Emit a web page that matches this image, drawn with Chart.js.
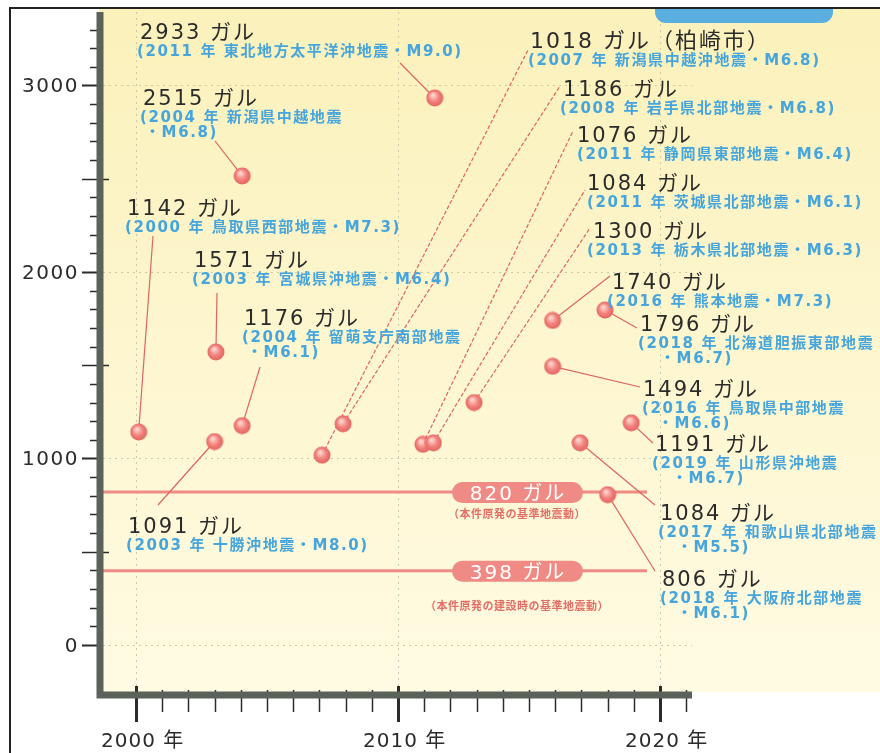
<!DOCTYPE html>
<html lang="ja">
<head>
<meta charset="utf-8">
<title>基準地震動を超えた地震の揺れ</title>
<script src="https://cdn.jsdelivr.net/npm/chart.js@4.4.1/dist/chart.umd.min.js"></script>
<style>
  html, body { margin: 0; padding: 0; background: #fff; }
  #chart { display: block; }
</style>
</head>
<body>
<canvas id="chart" width="880" height="753"></canvas>
<script>
// 観測された最大加速度（ガル）— 位置は図から読んだ年
const quakeYear = [2000.1, 2003.05, 2003.0, 2004.05, 2004.05, 2007.1, 2007.9, 2010.95, 2011.35, 2011.4, 2012.9, 2015.9, 2015.9, 2016.95, 2017.9, 2018.0, 2018.9];
const quakeGal = [1142, 1571, 1091, 1176, 2515, 1018, 1186, 1076, 1084, 2933, 1300, 1740, 1494, 1084, 1796, 806, 1191];
const quakeNote = ['', '', '', '', '', '（柏崎市）', '', '', '', '', '', '', '', '', '', '', ''];
const quakeSub = [
  ['(2000 年 鳥取県西部地震・M7.3)'],
  ['(2003 年 宮城県沖地震・M6.4)'],
  ['(2003 年 十勝沖地震・M8.0)'],
  ['(2004 年 留萌支庁南部地震', '・M6.1)'],
  ['(2004 年 新潟県中越地震', '・M6.8)'],
  ['(2007 年 新潟県中越沖地震・M6.8)'],
  ['(2008 年 岩手県北部地震・M6.8)'],
  ['(2011 年 静岡県東部地震・M6.4)'],
  ['(2011 年 茨城県北部地震・M6.1)'],
  ['(2011 年 東北地方太平洋沖地震・M9.0)'],
  ['(2013 年 栃木県北部地震・M6.3)'],
  ['(2016 年 熊本地震・M7.3)'],
  ['(2016 年 鳥取県中部地震', '・M6.6)'],
  ['(2017 年 和歌山県北部地震', '・M5.5)'],
  ['(2018 年 北海道胆振東部地震', '・M6.7)'],
  ['(2018 年 大阪府北部地震', '・M6.1)'],
  ['(2019 年 山形県沖地震', '・M6.7)']
];

// 基準地震動
const refGal = [820, 398];
const refTitle = ['820 ガル', '398 ガル'];
const refSub = ['（本件原発の基準地震動）', '（本件原発の建設時の基準地震動）'];

// 目盛
const yearLabels = [2000, 2010, 2020];
const galLabels = [0, 1000, 2000, 3000];

// label block placement: titleX, titleBaseline, subX, sub2X, leader end x/y, dashed
const labelLayout = [
  [127, 215, 125, null, 153, 236, false],
  [194, 267, 192, null, 217, 293, false],
  [128, 533, 126, null, 158, 505, false],
  [244, 325, 242, 247, 260, 367, false],
  [143, 105, 140, 145, 215, 141, false],
  [530, 48, 528, null, 528, 50, true],
  [563, 96, 560, null, 560, 86, true],
  [577, 142, 577, null, 573, 131, true],
  [587, 190, 587, null, 585, 190, true],
  [140, 39, 137, null, 400, 63, false],
  [593, 238, 587, null, 590, 228, true],
  [612, 289, 607, null, 610, 276, false],
  [643, 396, 642, 658, 640, 387, false],
  [660, 520, 658, 677, 655, 505, false],
  [640, 331, 638, 660, 637, 328, false],
  [662, 586, 660, 677, 655, 571, false],
  [655, 451, 652, 672, 653, 443, false]
];

const INK = '#2b2b2b';
const BLUE = '#45a5dc';
const PINK = '#ef8b84';
const AXIS = '#5b625a';
const NUM_FONT = '"DejaVu Sans", "Noto Sans CJK JP"';

function text(ctx, str, x, y, font, color, spacing, align) {
  ctx.save();
  ctx.font = font;
  ctx.fillStyle = color;
  ctx.letterSpacing = (spacing || 0) + 'px';
  ctx.textAlign = align || 'left';
  ctx.textBaseline = 'alphabetic';
  ctx.fillText(str, x, y);
  ctx.restore();
}

function pill(ctx, x, y, w, h, color) {
  const r = h / 2;
  ctx.beginPath();
  ctx.moveTo(x + r, y);
  ctx.lineTo(x + w - r, y);
  ctx.arc(x + w - r, y + r, r, -Math.PI / 2, Math.PI / 2);
  ctx.lineTo(x + r, y + h);
  ctx.arc(x + r, y + r, r, Math.PI / 2, Math.PI * 1.5);
  ctx.closePath();
  ctx.fillStyle = color;
  ctx.fill();
}

// small shaded ball for the points
const ball = (() => {
  const c = document.createElement('canvas');
  c.width = 18; c.height = 18;
  const g = c.getContext('2d');
  const grad = g.createRadialGradient(7, 6, 1, 9, 9, 9);
  grad.addColorStop(0, '#ffd4cc');
  grad.addColorStop(0.5, '#f2857f');
  grad.addColorStop(1, '#e25f5b');
  g.fillStyle = grad;
  g.beginPath();
  g.arc(9, 9, 8.5, 0, Math.PI * 2);
  g.fill();
  return c;
})();

const paper = {
  id: 'paper',
  beforeDraw(chart) {
    const { ctx, chartArea: a, scales: { x, y } } = chart;
    ctx.save();
    ctx.fillStyle = '#fff';
    ctx.fillRect(0, 0, chart.width, chart.height);
    const bg = ctx.createLinearGradient(0, 10, 0, a.bottom);
    bg.addColorStop(0, '#fbf1bb');
    bg.addColorStop(1, '#fffbe3');
    ctx.fillStyle = bg;
    ctx.fillRect(a.left - 4, 9, chart.width - a.left + 4, a.bottom - 9);

    // faint dotted grid
    ctx.strokeStyle = '#cfc9a8';
    ctx.lineWidth = 1;
    ctx.setLineDash([2, 4]);
    yearLabels.forEach(v => {
      const px = Math.round(x.getPixelForValue(v)) + 0.5;
      ctx.beginPath(); ctx.moveTo(px, a.top); ctx.lineTo(px, a.bottom); ctx.stroke();
    });
    galLabels.forEach(v => {
      const py = Math.round(y.getPixelForValue(v)) + 0.5;
      ctx.beginPath(); ctx.moveTo(a.left, py); ctx.lineTo(a.right, py); ctx.stroke();
    });
    ctx.setLineDash([]);

    // frame
    ctx.strokeStyle = '#222';
    ctx.lineWidth = 2;
    ctx.beginPath();
    ctx.moveTo(10, chart.height); ctx.lineTo(10, 8); ctx.lineTo(chart.width, 8);
    ctx.stroke();
    ctx.restore();

    // cut-off tab at the top
    ctx.save();
    ctx.beginPath();
    ctx.moveTo(655, 9); ctx.lineTo(833, 9); ctx.lineTo(833, 12);
    ctx.arcTo(833, 23, 822, 23, 11);
    ctx.lineTo(666, 23);
    ctx.arcTo(655, 23, 655, 12, 11);
    ctx.closePath();
    ctx.fillStyle = '#5aaee0';
    ctx.fill();
    ctx.restore();
  },
  beforeDatasetsDraw(chart) {
    const { ctx, chartArea: a, scales: { x, y } } = chart;
    ctx.save();
    // reference levels
    refGal.forEach((g, i) => {
      const py = y.getPixelForValue(g);
      ctx.strokeStyle = PINK;
      ctx.lineWidth = 3;
      ctx.beginPath(); ctx.moveTo(a.left, py); ctx.lineTo(647, py); ctx.stroke();
    });
    // leader lines
    ctx.strokeStyle = '#dc6660';
    ctx.lineWidth = 1.2;
    quakeGal.forEach((g, i) => {
      const L = labelLayout[i];
      ctx.setLineDash(L[6] ? [4, 2] : []);
      ctx.beginPath();
      ctx.moveTo(x.getPixelForValue(quakeYear[i]), y.getPixelForValue(g));
      ctx.lineTo(L[4], L[5]);
      ctx.stroke();
    });
    ctx.setLineDash([]);
    // badges
    refGal.forEach((g, i) => {
      const py = y.getPixelForValue(g);
      pill(ctx, 452, py - 10, 131, 21, PINK);
      text(ctx, refTitle[i], 518, py + 8, '20px ' + NUM_FONT, '#fff', 2, 'center');
      text(ctx, refSub[i], 517, py + (i === 0 ? 26 : 39), 'bold 11px "Noto Sans CJK JP"', '#e46e66', 0.5, 'center');
    });
    ctx.restore();
  },
  afterDatasetsDraw(chart) {
    const { ctx } = chart;
    quakeGal.forEach((g, i) => {
      const L = labelLayout[i];
      const size = quakeNote[i] ? 22 : 21;
      text(ctx, g + ' ガル' + quakeNote[i], L[0], L[1], size + 'px ' + NUM_FONT, INK, 2);
      const sub = quakeSub[i];
      text(ctx, sub[0], L[2], L[1] + 17, 'bold 15px ' + NUM_FONT, BLUE, 1.6);
      if (sub[1]) text(ctx, sub[1], L[3], L[1] + 32, 'bold 15px ' + NUM_FONT, BLUE, 1.6);
    });
  },
  afterDraw(chart) {
    const { ctx, chartArea: a, scales: { x, y } } = chart;
    ctx.save();
    ctx.strokeStyle = INK;
    // y ticks every 100
    for (let v = 0; v <= 3300; v += 100) {
      const py = Math.round(y.getPixelForValue(v)) + 0.5;
      ctx.beginPath();
      if (v % 1000 === 0) { ctx.lineWidth = 2; ctx.moveTo(82, py); ctx.lineTo(a.left, py); }
      else if (v % 500 === 0) { ctx.lineWidth = 1.5; ctx.moveTo(82, py); ctx.lineTo(a.left + 6, py); }
      else { ctx.lineWidth = 1.5; ctx.moveTo(90, py); ctx.lineTo(a.left, py); }
      ctx.stroke();
    }
    // x ticks every year
    for (let v = 2000; v <= 2021; v++) {
      const px = Math.round(x.getPixelForValue(v)) + 0.5;
      ctx.beginPath();
      if (v % 10 === 0) { ctx.lineWidth = 3; ctx.moveTo(px, a.bottom - 6); ctx.lineTo(px, a.bottom + 30); }
      else { ctx.lineWidth = 1.5; ctx.moveTo(px, a.bottom - 2); ctx.lineTo(px, a.bottom + 20); }
      ctx.stroke();
    }
    // axis lines
    ctx.strokeStyle = AXIS;
    ctx.lineWidth = 7;
    ctx.beginPath();
    ctx.moveTo(a.left - 3, a.top);
    ctx.lineTo(a.left - 3, a.bottom + 3);
    ctx.lineTo(a.right, a.bottom + 3);
    ctx.stroke();
    ctx.restore();

    galLabels.forEach(v => {
      text(ctx, String(v), 79, y.getPixelForValue(v) + 7, '20px ' + NUM_FONT, INK, 1.5, 'right');
    });
    yearLabels.forEach(v => {
      text(ctx, v + ' 年', x.getPixelForValue(v) - 35, 747, '20px ' + NUM_FONT, INK, 1);
    });
  }
};

new Chart(document.getElementById('chart'), {
  type: 'scatter',
  data: {
    datasets: [{
      data: quakeYear.map((yr, i) => ({ x: yr, y: quakeGal[i] })),
      pointStyle: ball,
      pointRadius: 9,
      pointHoverRadius: 9
    }]
  },
  options: {
    responsive: false,
    animation: false,
    devicePixelRatio: 1,
    layout: { padding: { left: 103, right: 188, top: 12, bottom: 61 } },
    plugins: { legend: { display: false }, tooltip: { enabled: false } },
    scales: {
      x: { type: 'linear', display: false, min: 1998.74, max: 2021.22 },
      y: { type: 'linear', display: false, min: -252, max: 3394 }
    }
  },
  plugins: [paper]
});
</script>
</body>
</html>
